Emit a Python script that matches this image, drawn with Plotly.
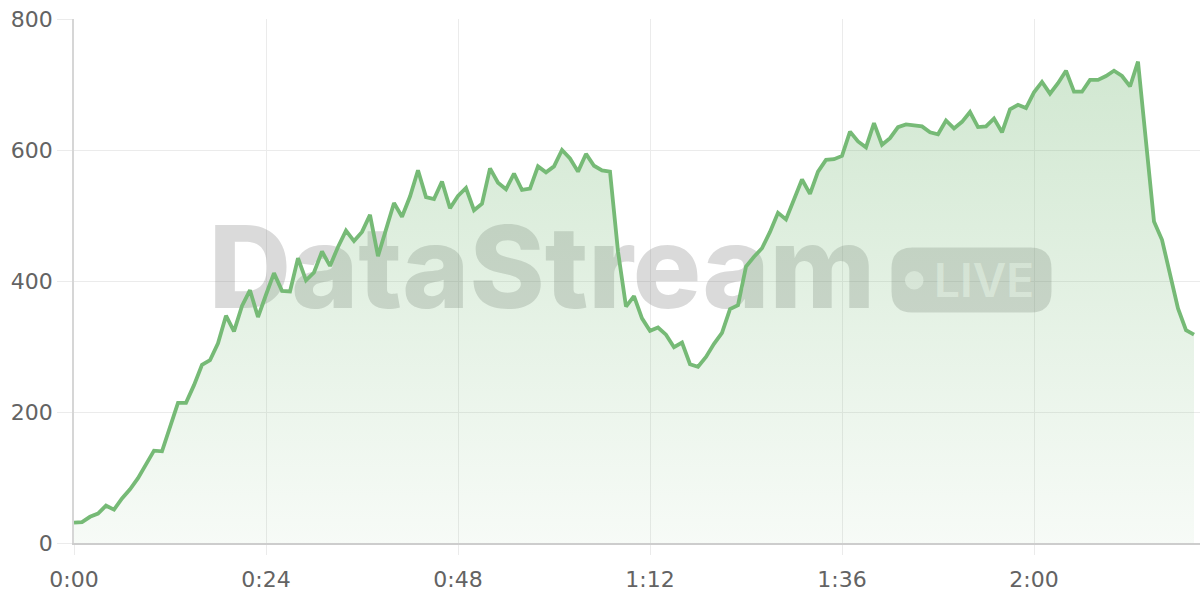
import plotly.graph_objects as go

# ---- data (seconds since start, stream value) ----
seconds = list(range(0, 141))
values = [
    31, 32, 40, 45, 57, 51, 68, 82, 99, 119, 141, 140, 178, 214, 214, 241,
    272, 279, 305, 347, 323, 362, 386, 345, 379, 412, 385, 384, 435, 401, 413,
    445, 423, 452, 477, 461, 475, 501, 438, 478, 519, 498, 529, 569, 528, 525, 552, 511,
    530, 542, 508, 518, 572, 550, 540, 564, 539, 541, 575, 566, 575, 600, 587, 567, 594, 576, 569, 567,
    445, 361, 377, 343, 324, 329, 318, 299, 306, 273, 269, 284, 304, 321, 357, 363, 422, 437, 450, 475,
    504, 494, 526, 555, 533, 567, 585, 586,
    591, 628, 613, 604, 641, 608, 618, 635, 639, 637, 636, 627, 624, 645, 633, 643, 658, 635, 636, 648, 627, 662,
    669, 664, 688, 704, 686, 702, 721, 689, 689, 707, 707, 713, 721, 713, 697, 735, 610, 491, 463, 412, 358, 325, 318,
]
x_tick_vals = [0, 24, 48, 72, 96, 120]
x_tick_text = ["0:00", "0:24", "0:48", "1:12", "1:36", "2:00"]
y_tick_vals = [0, 200, 400, 600, 800]

# ---- layout geometry (page pixels) ----
W, H = 1200, 600
PLOT_L, PLOT_R, PLOT_T, PLOT_B = 74, 1200, 19, 543
ML, MR, MT, MB = PLOT_L, W - PLOT_R, PLOT_T, H - PLOT_B
X_PX = 8.0
X_MAX = (PLOT_R - PLOT_L) / X_PX
Y_MAX = 800


def px_x(px):
    return (px - PLOT_L) / X_PX


def px_y(py):
    return (PLOT_B - py) * Y_MAX / (PLOT_B - PLOT_T)


LINE = "#76ba76"
GRID = "#ebebeb"
WM = "rgba(120,120,120,0.27)"
LABEL = "#636363"
LIVE_TXT = "rgba(255,255,255,0.62)"

fig = go.Figure()

# watermark text (under the series)
fig.add_trace(go.Scatter(
    x=[px_x(542)], y=[px_y(279)], mode="text", text=["DataStream"],
    textfont=dict(family="Inter", size=114, color=WM, weight=800),
    textposition="middle center", hoverinfo="skip", showlegend=False, cliponaxis=False,
))
fig.add_trace(go.Scatter(
    x=[px_x(984)], y=[px_y(285)], mode="text", text=["LIVE"],
    textfont=dict(family="Inter", size=46, color=LIVE_TXT, weight=600),
    textposition="middle center", hoverinfo="skip", showlegend=False, cliponaxis=False,
))

fig.add_trace(go.Scatter(
    x=seconds, y=values, mode="lines",
    line=dict(color=LINE, width=3.8),
    fill="tozeroy",
    fillgradient=dict(
        type="vertical",
        colorscale=[[0, "rgba(118,185,118,0.06)"], [1, "rgba(118,185,118,0.36)"]],
        start=0, stop=800,
    ),
    hoverinfo="skip", showlegend=False,
))

# badge (rounded rect) for LIVE
x0, x1, y0, y1, r = 891.5, 1051.5, 247.5, 312.5, 21


def P(px, py):
    return f"{px_x(px)},{px_y(py)}"


path = (
    f"M {P(x0 + r, y0)} L {P(x1 - r, y0)} Q {P(x1, y0)} {P(x1, y0 + r)} "
    f"L {P(x1, y1 - r)} Q {P(x1, y1)} {P(x1 - r, y1)} "
    f"L {P(x0 + r, y1)} Q {P(x0, y1)} {P(x0, y1 - r)} "
    f"L {P(x0, y0 + r)} Q {P(x0, y0)} {P(x0 + r, y0)} Z"
)
fig.add_shape(type="path", path=path, xref="x", yref="y", layer="between",
              fillcolor=WM, line=dict(width=0))
fig.add_shape(type="circle", xref="x", yref="y", layer="between",
              x0=px_x(905), x1=px_x(923.5), y0=px_y(289.5), y1=px_y(271),
              fillcolor=LIVE_TXT, line=dict(width=0))

fig.update_layout(
    template="none",
    width=W, height=H,
    margin=dict(l=ML, r=MR, t=MT, b=MB, autoexpand=False),
    paper_bgcolor="white", plot_bgcolor="white",
    font=dict(family="DejaVu Sans", size=22, color=LABEL),
    xaxis=dict(
        range=[0, X_MAX], tickvals=x_tick_vals, ticktext=x_tick_text,
        showgrid=True, gridcolor=GRID, gridwidth=1, zeroline=False,
        showline=True, linecolor="#cdcdcd", linewidth=1.5,
        ticks="outside", ticklen=10, tickcolor=GRID, tickwidth=1,
        ticklabelstandoff=6, automargin=False,
        tickfont=dict(size=22, color=LABEL), fixedrange=True,
    ),
    yaxis=dict(
        range=[0, Y_MAX], tickvals=y_tick_vals,
        showgrid=True, gridcolor=GRID, gridwidth=1, zeroline=False,
        showline=True, linecolor="#d6d6d6", linewidth=1.5,
        ticks="outside", ticklen=15, tickcolor=GRID, tickwidth=1,
        ticklabelstandoff=0, automargin=False,
        tickfont=dict(size=22, color=LABEL), fixedrange=True,
    ),
)

fig.write_html(
    "out.html",
    config={"displayModeBar": False},
    post_script="document.body.style.margin='0';document.body.style.overflow='hidden';",
)
